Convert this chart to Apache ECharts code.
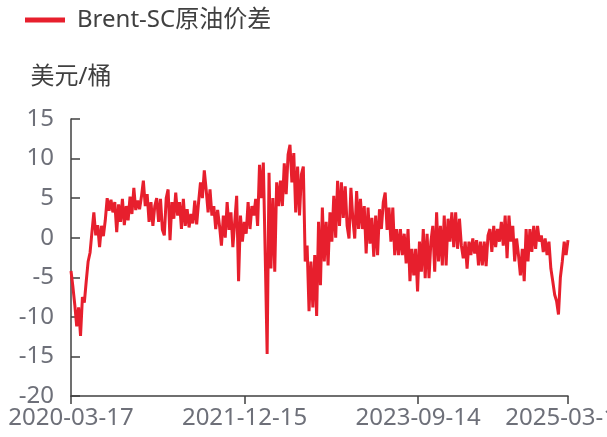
<!DOCTYPE html>
<html>
<head>
<meta charset="utf-8">
<script src="https://cdn.jsdelivr.net/npm/echarts@6/dist/echarts.min.js"></script>
<style>
html,body{margin:0;padding:0;background:#fff;}
#c{width:607px;height:437px;}
</style>
</head>
<body>
<div id="c"></div>
<script>
// ---- data ----
const seriesName = 'Brent-SC原油价差';
const yAxisName = '美元/桶';
const startDate = '2020-03-17';
const endDate = '2025-03-18';
const sampleStepDays = 7; // one reading per week
const tickLabels = ['2020-03-17', '2021-12-15', '2023-09-14', '2025-03-18'];
const yTicks = [-20, -15, -10, -5, 0, 5, 10, 15];
const spread = [
 -4.2,-6.2,-8.5,-11.2,-8.8,-12.4,-7.5,-8.2,-5.5,-3.0,
 -1.9,0.7,3.2,0.3,1.6,-1.2,1.5,0.2,2.2,5.0,
 3.4,4.8,3.2,4.5,0.7,4.2,2.0,4.9,1.6,4.0,
 2.2,5.2,3.0,6.3,3.5,4.7,3.6,5.2,7.2,4.0,
 5.5,2.0,4.5,1.5,4.0,5.0,2.0,4.9,1.0,0.3,
 5.0,6.1,-0.3,4.5,2.4,5.7,2.8,4.5,1.1,4.9,
 1.5,3.6,1.3,3.0,1.8,4.7,1.7,4.5,7.0,5.0,
 8.5,6.0,3.2,6.1,2.8,4.0,1.1,3.5,1.5,-1.0,
 2.8,0.0,4.5,1.0,3.2,-1.2,2.0,5.3,-5.5,2.8,
 -0.5,2.0,0.5,4.5,1.1,4.0,2.8,4.9,1.5,9.2,
 5.0,9.5,-2.2,-14.7,8.2,-3.9,5.0,-4.3,7.0,4.0,
 7.2,4.0,9.4,5.5,10.5,11.75,7.0,10.7,3.2,9.0,
 2.8,8.0,9.0,-3.0,-1.0,-9.3,-3.0,-8.8,-2.2,-9.9,
 2.0,-6.0,3.8,-3.0,2.0,-3.5,3.2,-0.5,5.3,0.0,
 7.2,1.5,7.0,2.5,6.5,1.5,-0.1,6.3,2.4,-0.1,
 5.9,1.1,4.9,1.1,4.0,-2.0,3.8,-0.75,2.5,-2.4,
 2.8,-2.2,3.6,1.1,4.5,5.7,1.0,3.8,-0.5,3.8,
 -2.2,1.1,-2.2,1.1,-2.2,0.5,-3.25,1.1,-5.5,-1.4,
 -4.75,-1.4,-6.8,-0.5,-4.3,1.1,-5.1,0.5,-5.1,-0.5,
 1.5,-4.3,3.2,-3.0,1.5,-3.5,2.8,-3.5,2.4,-0.5,
 3.2,-1.2,3.2,-1.4,2.4,-1.0,-2.6,-0.5,-3.9,-0.5,
 -2.2,-0.1,-2.0,-0.3,-3.5,-0.5,-3.5,-0.5,-3.6,0.3,
 1.1,-1.8,1.5,-1.2,1.1,-0.5,2.0,-1.0,2.8,-2.6,
 2.8,-0.5,1.5,-3.0,-0.1,-2.2,-4.75,-1.4,-5.5,1.1,
 -3.0,1.1,-1.8,1.5,-1.4,1.5,-0.5,0.3,-1.8,-0.1,
 -2.2,-0.5,-3.9,-5.5,-7.2,-8.0,-9.7,-5.0,-3.0,-0.5,
 -2.2,-0.3
];

// ---- helpers ----
const DAY = 86400000;
const t0 = Date.parse(startDate + 'T00:00:00Z');
const totalDays = Math.round((Date.parse(endDate + 'T00:00:00Z') - t0) / DAY);
const labelStepDays = Math.round((Date.parse(tickLabels[1] + 'T00:00:00Z') - t0) / DAY);
function dayToStr(d) {
  const dt = new Date(t0 + d * DAY);
  const m = String(dt.getUTCMonth() + 1).padStart(2, '0');
  const dd = String(dt.getUTCDate()).padStart(2, '0');
  return dt.getUTCFullYear() + '-' + m + '-' + dd;
}
const lineData = spread.map((v, i) => [Math.min(i * sampleStepDays, totalDays), v]);

const FONT = '"Noto Sans","Noto Sans CJK SC",sans-serif';
const chart = echarts.init(document.getElementById('c'), null, {renderer: 'canvas'});
chart.setOption({
  animation: false,
  backgroundColor: '#ffffff',
  textStyle: {fontFamily: FONT},
  legend: {
    left: 25, top: 8, padding: 0,
    itemWidth: 40, itemHeight: 5, itemGap: 12,
    icon: 'rect',
    textStyle: {fontSize: 24, color: '#404040', fontFamily: FONT, padding: [0, 0, 0, 7]},
    data: [seriesName]
  },
  grid: {left: 71, right: 39, top: 119, bottom: 41, containLabel: false, outerBoundsMode: 'none'},
  xAxis: {
    type: 'value',
    min: 0, max: totalDays, interval: labelStepDays,
    axisLine: {show: true, onZero: false, lineStyle: {color: '#404040', width: 1.5}},
    axisTick: {show: true, inside: false, length: 8, lineStyle: {color: '#404040', width: 1.5}},
    axisLabel: {
      fontSize: 24, color: '#6e7079', margin: 10, fontFamily: FONT,
      showMaxLabel: true, hideOverlap: false,
      formatter: v => dayToStr(v)
    },
    splitLine: {show: false}
  },
  yAxis: {
    type: 'value',
    min: yTicks[0], max: yTicks[yTicks.length - 1], interval: 5,
    name: yAxisName,
    nameGap: 30,
    nameTextStyle: {fontSize: 24, color: '#404040', fontFamily: FONT},
    axisLine: {show: true, lineStyle: {color: '#404040', width: 1.5}},
    axisTick: {show: true, inside: true, length: 9, lineStyle: {color: '#404040', width: 1.5}},
    axisLabel: {fontSize: 24, color: '#6e7079', margin: 17, fontFamily: FONT},
    splitLine: {show: false}
  },
  series: [{
    name: seriesName,
    type: 'line',
    data: lineData,
    showSymbol: false,
    symbol: 'none',
    color: '#E71F2D',
    lineStyle: {width: 3, color: '#E71F2D'}
  }]
});
</script>
</body>
</html>
